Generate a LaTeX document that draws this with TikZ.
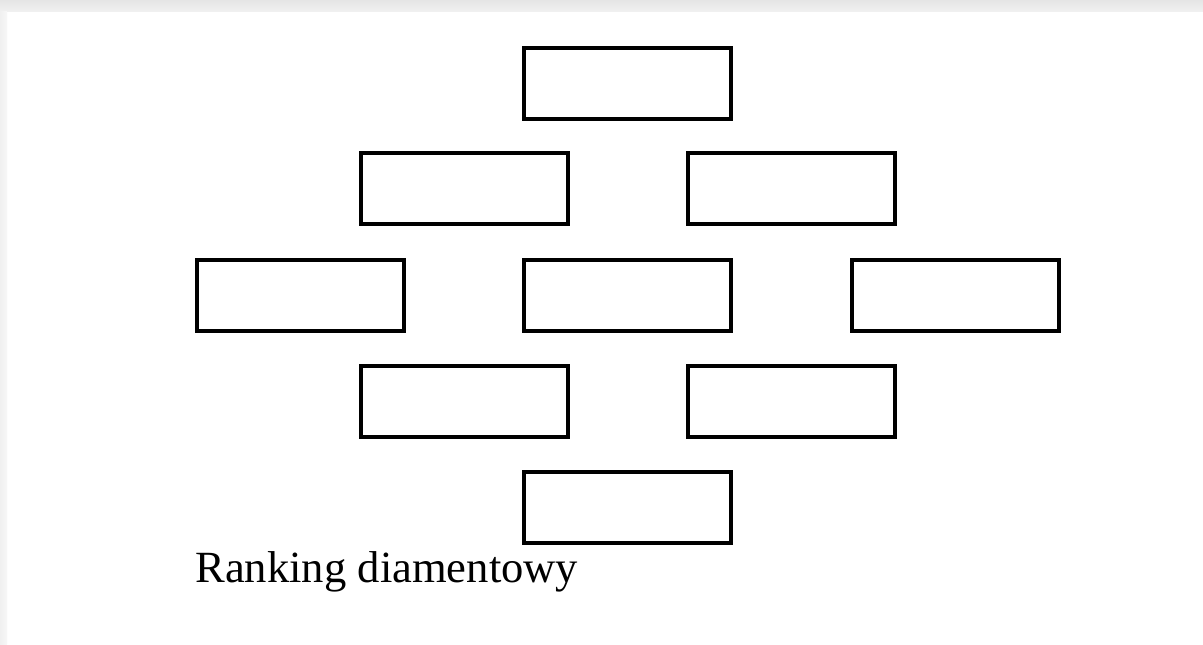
\documentclass[tikz,border=0pt]{standalone}
\usepackage{fontspec}
\setmainfont{Liberation Serif}
\begin{document}
\begin{tikzpicture}[x=0.5pt,y=-0.5pt,
  rankbox/.style={draw=black,line width=2pt,minimum width=103.5pt,minimum height=35.5pt,inner sep=0pt,fill=white}]
\useasboundingbox (0,0) rectangle (1203,644);
\fill[white] (0,0) rectangle (1203,644);
\shade[top color=black!10,bottom color=black!6] (0,0) rectangle (1203,11);
\shade[left color=black!6,right color=black!3] (0,11) rectangle (7,644);
\node[rankbox] (r1) at (627.5,83.4) {};
\node[rankbox] (r2a) at (464.5,188.5) {};
\node[rankbox] (r2b) at (791.5,188.5) {};
\node[rankbox] (r3a) at (300.5,295) {};
\node[rankbox] (r3b) at (627.5,295) {};
\node[rankbox] (r3c) at (955,295) {};
\node[rankbox] (r4a) at (464.5,401.5) {};
\node[rankbox] (r4b) at (791.5,401.5) {};
\node[rankbox] (r5) at (627.5,507.5) {};
\node[anchor=base west,inner sep=0pt,font=\fontsize{22.3pt}{26pt}\selectfont] (cap) at (195,582) {Ranking diamentowy};
\end{tikzpicture}
\end{document}
